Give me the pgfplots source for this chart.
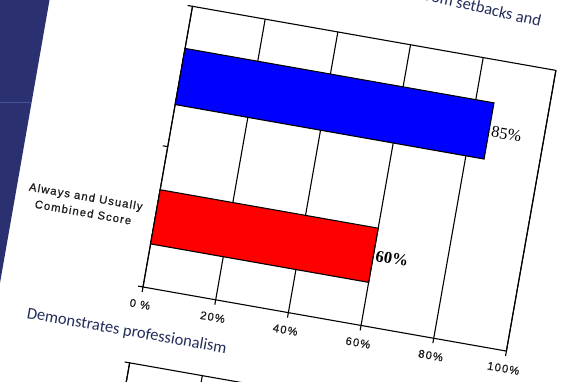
\documentclass[border=0pt]{standalone}
\usepackage{fontspec}
\setmainfont{Liberation Sans}
\newfontfamily\titlefont{Carlito}
\newfontfamily\valfont{Liberation Serif}
\newfontfamily\spacedfont[LetterSpace=10,FakeBold=0.8]{Liberation Sans}
\usepackage{pgfplots}
\pgfplotsset{compat=1.18}
\definecolor{slideblue}{RGB}{42,48,112}
\definecolor{slidestripe}{RGB}{72,82,150}
\definecolor{titlecol}{RGB}{35,45,90}
\definecolor{labcol}{RGB}{30,30,30}
\begin{document}
\begin{tikzpicture}[x=1pt,y=1pt]
\path[use as bounding box] (0,0) rectangle (561,382);
\clip (0,0) rectangle (561,382);
\fill[white] (0,0) rectangle (561,382);
\fill[slideblue] (0,382) -- (49.5,382) -- (0,99) -- cycle;
\draw[slidestripe, line width=1pt] (0,279) -- (31,279);
\begin{scope}[shift={(143,95)}, rotate=-10, transform shape]
\pgfplotsset{
  chartstyle/.style={
    scale only axis, width=369pt, height=285pt,
    xmin=0, xmax=100, ymin=0, ymax=2,
    xtick={0,20,40,60,80,100},
    ytick={0,1,2}, yticklabels={},
    tick pos=left,
    tick align=outside, major tick length=5pt,
    xmajorgrids, grid style={black, line width=1.1pt},
    axis line style={black, line width=1.1pt},
    tick style={black, line width=1.1pt},
    clip=false,
    /pgf/number format/assume math mode=true,
  }
}
\begin{axis}[chartstyle, at={(0,0)}, anchor=south west, name=main,
  xticklabels={0 \%,20\%,40\%,60\%,80\%,100\%},
  xticklabel style={font=\spacedfont\fontsize{11.3}{13}\selectfont, text=labcol, yshift=-5pt},
]
\addplot[xbar, bar width=57pt, bar shift=0pt, fill=blue, draw=black, line width=1.1pt,
  nodes near coords={\pgfmathprintnumber{\pgfplotspointmeta}\%},
  nodes near coords style={font=\valfont\fontsize{16.5}{16}\selectfont, text=black, inner sep=2pt}]
  coordinates {(85,1.5)};
\addplot[xbar, bar width=55pt, bar shift=0pt, fill=red, draw=black, line width=1.1pt,
  nodes near coords={\pgfmathprintnumber{\pgfplotspointmeta}\%},
  nodes near coords style={font=\valfont\bfseries\fontsize{16.5}{16}\selectfont, text=black, inner sep=2pt}]
  coordinates {(60,0.5)};
\node[font=\spacedfont\fontsize{11.3}{16}\selectfont, text=labcol, align=center]
  at (axis cs:-19.5,0.5) {Always and Usually\\Combined Score};
\end{axis}
\begin{axis}[chartstyle, at={(main.south west)}, anchor=north west, yshift=-77pt, xticklabels={}]
\addplot[xbar, bar shift=0pt, draw=none, fill=none] coordinates {(0,1)};
\end{axis}
\node[font=\titlefont\fontsize{16.5}{18}\selectfont, text=titlecol, anchor=base east, rotate=-3]
  at (349,325) {Is able to recover from setbacks and};
\node[font=\titlefont\fontsize{16.5}{18}\selectfont, text=titlecol, anchor=base west]
  at (-113,-51) {Demonstrates professionalism};
\end{scope}
\end{tikzpicture}
\end{document}
